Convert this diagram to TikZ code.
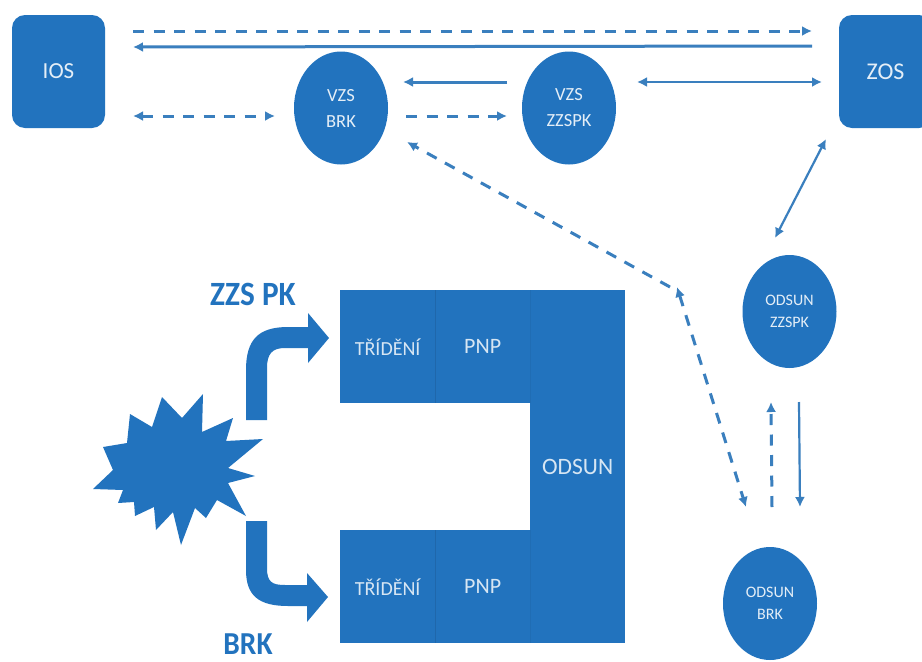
\documentclass[tikz,border=0pt]{standalone}
\usepackage{fontspec}
\setmainfont{Carlito}
\newfontfamily\headfont[FakeStretch=0.92]{Carlito}
\usetikzlibrary{arrows.meta,shapes.geometric}
\definecolor{blu}{HTML}{2273BE}
\definecolor{lin}{HTML}{3A7FBE}
\tikzset{
  x=1pt,y=-1pt,
  roundbox/.style={fill=blu,rounded corners=13pt,inner sep=0pt,minimum width=93pt,minimum height=113pt,text=white!88!blu},
  disc/.style={ellipse,fill=blu,inner sep=0pt,minimum width=94pt,minimum height=113pt,text=white!88!blu,align=center},
  bigdisc/.style={disc,font=\fontsize{18.5}{26}\selectfont},
  smalldisc/.style={disc,font=\fontsize{16}{22}\selectfont},
  cell/.style={fill=blu,inner sep=0pt,text=white!82!blu},
  trcell/.style={cell,font=\fontsize{20}{22}\selectfont},
  pncell/.style={cell,font=\fontsize{22}{24}\selectfont},
  odcell/.style={cell,font=\fontsize{23.5}{26}\selectfont},
  conn/.style={draw=lin,line width=3pt,-{Latex[length=10pt,width=10pt]}},
  thinconn/.style={conn,line width=2.2pt},
  twoway/.style={conn,{Latex[length=10pt,width=10pt]}-{Latex[length=10pt,width=10pt]}},
  thintwoway/.style={twoway,line width=2.2pt},
  dashline/.style={dash pattern=on 11pt off 9.5pt},
  head/.style={text=blu,anchor=base,inner sep=0pt,font=\headfont\bfseries\fontsize{34}{36}\selectfont},
  bigarrow/.style={fill=blu},
  divider/.style={draw=blu!90!black,line width=1pt}
}
\begin{document}
\begin{tikzpicture}
\useasboundingbox (0,0) rectangle (922,662);
\fill[white] (0,0) rectangle (922,662);
% blocks
\node[trcell,anchor=north west,minimum width=95pt,minimum height=113pt] (t1) at (340,290) {TŘÍDĚNÍ};
\node[pncell,anchor=north west,minimum width=95pt,minimum height=113pt] (t2) at (435,290) {PNP};
\node[odcell,anchor=north west,minimum width=95pt,minimum height=353pt] (od) at (530,290) {ODSUN};
\node[trcell,anchor=north west,minimum width=95pt,minimum height=113pt] (b1) at (340,530) {TŘÍDĚNÍ};
\node[pncell,anchor=north west,minimum width=95pt,minimum height=113pt] (b2) at (435,530) {PNP};
\draw[divider] (t1.north east) -- (t1.south east);
\draw[divider] (b1.north east) -- (b1.south east);
\draw[divider,draw=blu!95!black] (t2.north east) -- (t2.south east);
\draw[divider,draw=blu!95!black] (b2.north east) -- (b2.south east);
% nodes
\node[roundbox,font=\fontsize{23}{26}\selectfont] (ios) at (58.5,71.5) {IOS};
\begin{scope}
\clip (0,0) rectangle (922,662);
\node[roundbox,font=\fontsize{24}{26}\selectfont] (zos) at (885.5,71.5) {ZOS};
\end{scope}
\node[bigdisc] (vb) at (341,108) {VZS\\BRK};
\node[bigdisc] (vz) at (569,108) {VZS\\ZZSPK};
\node[smalldisc] (oz) at (789.5,311.5) {ODSUN\\ZZSPK};
\node[smalldisc] (ob) at (770,603.5) {ODSUN\\BRK};
% free connector ends
\coordinate (a1) at (133,31); \coordinate (a2) at (812,31);
\coordinate (c1) at (812,46); \coordinate (c2) at (133,47);
\coordinate (d1) at (133,116); \coordinate (d2) at (275,116);
\coordinate (e1) at (507,82); \coordinate (e2) at (403,82);
\coordinate (f1) at (406,116); \coordinate (f2) at (507,116);
\coordinate (g1) at (637,82); \coordinate (g2) at (822,82);
\coordinate (h1) at (775,238); \coordinate (h2) at (826,139);
\coordinate (i1) at (407,142); \coordinate (i2) at (670,287);
\coordinate (j1) at (677,287); \coordinate (j2) at (746,507);
\coordinate (k1) at (772,507); \coordinate (k2) at (771,402);
\coordinate (l1) at (799,402); \coordinate (l2) at (800,507);
\draw[conn,dashline] (a1) -- (a2);
\draw[conn] (c1) -- (c2);
\draw[twoway,dashline] (d1) -- (d2);
\draw[conn] (e1) -- (e2);
\draw[conn,dashline] (f1) -- (f2);
\draw[thintwoway] (g1) -- (g2);
\draw[thintwoway] (h1) -- (h2);
\draw[conn,dashline] (i2) -- (i1);
\draw[twoway,dashline] (j1) -- (j2);
\draw[conn,dashline] (k1) -- (k2);
\draw[thinconn] (l1) -- (l2);
% star
\fill[blu] (93,489) -- (113,470) -- (103,447) -- (127,443) -- (130,414) -- (152,427) -- (162,397) -- (182,418) -- (203,394) -- (202,432) -- (233,418) -- (226,441) -- (263,439) -- (228,468) -- (255,476) -- (228,483) -- (246,516) -- (217,500) -- (206,518) -- (195,508) -- (181,545) -- (173,512) -- (156,530) -- (154,507) -- (135,516) -- (134,502) -- (118,503) -- (123,490) -- cycle;
% big arrows
\fill[bigarrow] (246,420) -- (246,370) .. controls (246,340) and (258,327) .. (288,327) -- (308,327) -- (308,313) -- (329,338) -- (308,363) -- (308,348) -- (285,348) .. controls (272,348) and (267,354) .. (267,368) -- (267,420) -- cycle;
\fill[bigarrow] (246,521) -- (246,570) .. controls (246,595) and (258,606) .. (288,606) -- (307,606) -- (307,622) -- (328,597) -- (307,573) -- (307,585) -- (285,585) .. controls (272,585) and (267,582) .. (267,568) -- (267,521) -- cycle;
\node[head] (zl) at (253,305) {ZZS PK};
\node[head,font=\headfont\bfseries\fontsize{32}{34}\selectfont] (bl) at (248,654) {BRK};
\end{tikzpicture}
\end{document}
